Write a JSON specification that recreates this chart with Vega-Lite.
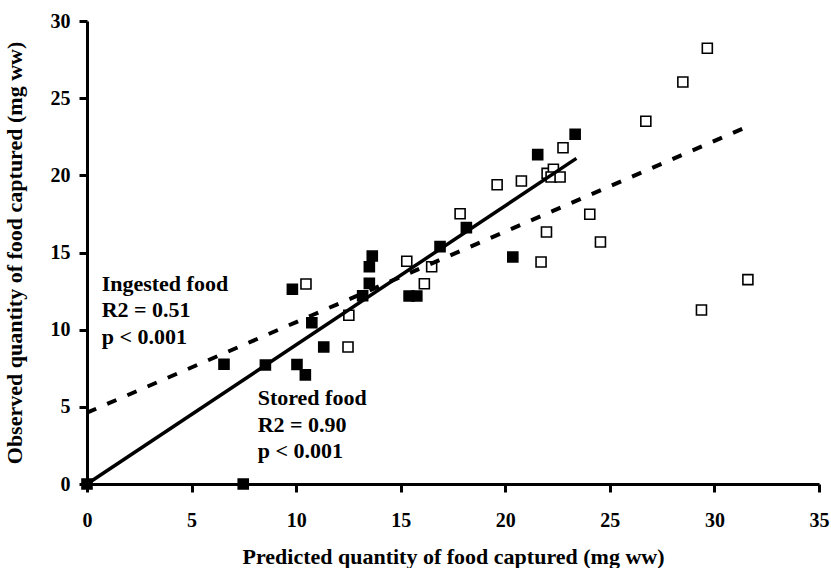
{
  "$schema": "https://vega.github.io/schema/vega-lite/v6.json",
  "autosize": "none",
  "width": 732,
  "height": 463,
  "padding": {"left": 87, "top": 21, "right": 12, "bottom": 84},
  "background": "white",
  "config": {
    "view": {"stroke": null},
    "axis": {
      "grid": false,
      "domainColor": "black",
      "domainWidth": 3,
      "tickColor": "black",
      "tickWidth": 3,
      "tickSize": 8,
      "labelFont": "Liberation Serif",
      "labelFontWeight": "bold",
      "labelFontSize": 20,
      "labelColor": "black",
      "labelFlush": false,
      "labelOverlap": false,
      "titleFont": "Liberation Serif",
      "titleFontWeight": "bold",
      "titleFontSize": 22,
      "titleColor": "black"
    }
  },
  "datasets": {
    "points": [
      {"x": 0, "y": 0, "food": "Stored"},
      {"x": 7.47, "y": 0, "food": "Stored"},
      {"x": 6.55, "y": 7.76, "food": "Stored"},
      {"x": 8.53, "y": 7.71, "food": "Stored"},
      {"x": 10.04, "y": 7.74, "food": "Stored"},
      {"x": 10.44, "y": 7.07, "food": "Stored"},
      {"x": 9.82, "y": 12.62, "food": "Stored"},
      {"x": 10.75, "y": 10.45, "food": "Stored"},
      {"x": 11.32, "y": 8.88, "food": "Stored"},
      {"x": 13.18, "y": 12.2, "food": "Stored"},
      {"x": 13.5, "y": 13.0, "food": "Stored"},
      {"x": 13.5, "y": 14.08, "food": "Stored"},
      {"x": 13.64, "y": 14.77, "food": "Stored"},
      {"x": 15.4, "y": 12.18, "food": "Stored"},
      {"x": 15.77, "y": 12.18, "food": "Stored"},
      {"x": 16.88, "y": 15.38, "food": "Stored"},
      {"x": 18.14, "y": 16.61, "food": "Stored"},
      {"x": 20.36, "y": 14.71, "food": "Stored"},
      {"x": 21.55, "y": 21.34, "food": "Stored"},
      {"x": 23.34, "y": 22.66, "food": "Stored"},
      {"x": 10.47, "y": 12.96, "food": "Ingested"},
      {"x": 12.52, "y": 10.93, "food": "Ingested"},
      {"x": 12.48, "y": 8.88, "food": "Ingested"},
      {"x": 15.29, "y": 14.43, "food": "Ingested"},
      {"x": 16.13, "y": 12.98, "food": "Ingested"},
      {"x": 16.48, "y": 14.08, "food": "Ingested"},
      {"x": 17.84, "y": 17.51, "food": "Ingested"},
      {"x": 19.61, "y": 19.39, "food": "Ingested"},
      {"x": 20.77, "y": 19.63, "food": "Ingested"},
      {"x": 22.0, "y": 20.13, "food": "Ingested"},
      {"x": 22.3, "y": 20.39, "food": "Ingested"},
      {"x": 22.19, "y": 19.89, "food": "Ingested"},
      {"x": 22.62, "y": 19.89, "food": "Ingested"},
      {"x": 22.76, "y": 21.79, "food": "Ingested"},
      {"x": 21.97, "y": 16.33, "food": "Ingested"},
      {"x": 21.71, "y": 14.38, "food": "Ingested"},
      {"x": 24.04, "y": 17.48, "food": "Ingested"},
      {"x": 24.55, "y": 15.68, "food": "Ingested"},
      {"x": 26.72, "y": 23.5, "food": "Ingested"},
      {"x": 28.49, "y": 26.05, "food": "Ingested"},
      {"x": 29.66, "y": 28.23, "food": "Ingested"},
      {"x": 29.38, "y": 11.27, "food": "Ingested"},
      {"x": 31.6, "y": 13.24, "food": "Ingested"}
    ],
    "fits": [
      {"x": 0, "y": 0, "fit": "Stored"},
      {"x": 23.4, "y": 21.1, "fit": "Stored"},
      {"x": 0, "y": 4.62, "fit": "Ingested"},
      {"x": 31.66, "y": 23.2, "fit": "Ingested"}
    ],
    "notes": [
      {"x": 0.7, "y": 12.53, "text": "Ingested food"},
      {"x": 0.7, "y": 10.8, "text": "R2 = 0.51"},
      {"x": 0.7, "y": 9.07, "text": "p < 0.001"},
      {"x": 8.16, "y": 5.12, "text": "Stored food"},
      {"x": 8.16, "y": 3.35, "text": "R2 = 0.90"},
      {"x": 8.16, "y": 1.67, "text": "p < 0.001"}
    ]
  },
  "encoding": {
    "x": {
      "field": "x", "type": "quantitative",
      "scale": {"domain": [0, 35], "nice": false, "zero": false},
      "axis": {"values": [0, 5, 10, 15, 20, 25, 30, 35], "title": "Predicted quantity of food captured (mg ww)", "labelPadding": 18, "titlePadding": 16}
    },
    "y": {
      "field": "y", "type": "quantitative",
      "scale": {"domain": [0, 30], "nice": false, "zero": false},
      "axis": {"values": [0, 5, 10, 15, 20, 25, 30], "title": "Observed quantity of food captured (mg ww)", "labelPadding": 9, "titlePadding": 24}
    }
  },
  "layer": [
    {
      "data": {"name": "points"},
      "mark": {"type": "point", "shape": "square", "size": 100, "stroke": "black", "strokeWidth": 1.6, "opacity": 1},
      "encoding": {
        "fill": {"field": "food", "type": "nominal", "scale": {"domain": ["Stored", "Ingested"], "range": ["black", "white"]}, "legend": null}
      }
    },
    {
      "data": {"name": "fits"},
      "transform": [{"filter": "datum.fit === 'Stored'"}],
      "mark": {"type": "line", "color": "black", "strokeWidth": 3.5},
      "encoding": {}
    },
    {
      "data": {"name": "fits"},
      "transform": [{"filter": "datum.fit === 'Ingested'"}],
      "mark": {"type": "line", "color": "black", "strokeWidth": 4, "strokeDash": [10, 12]},
      "encoding": {}
    },
    {
      "data": {"name": "notes"},
      "mark": {"type": "text", "align": "left", "baseline": "alphabetic", "font": "Liberation Serif", "fontWeight": "bold", "fontSize": 22, "color": "black"},
      "encoding": {"text": {"field": "text"}}
    }
  ]
}
